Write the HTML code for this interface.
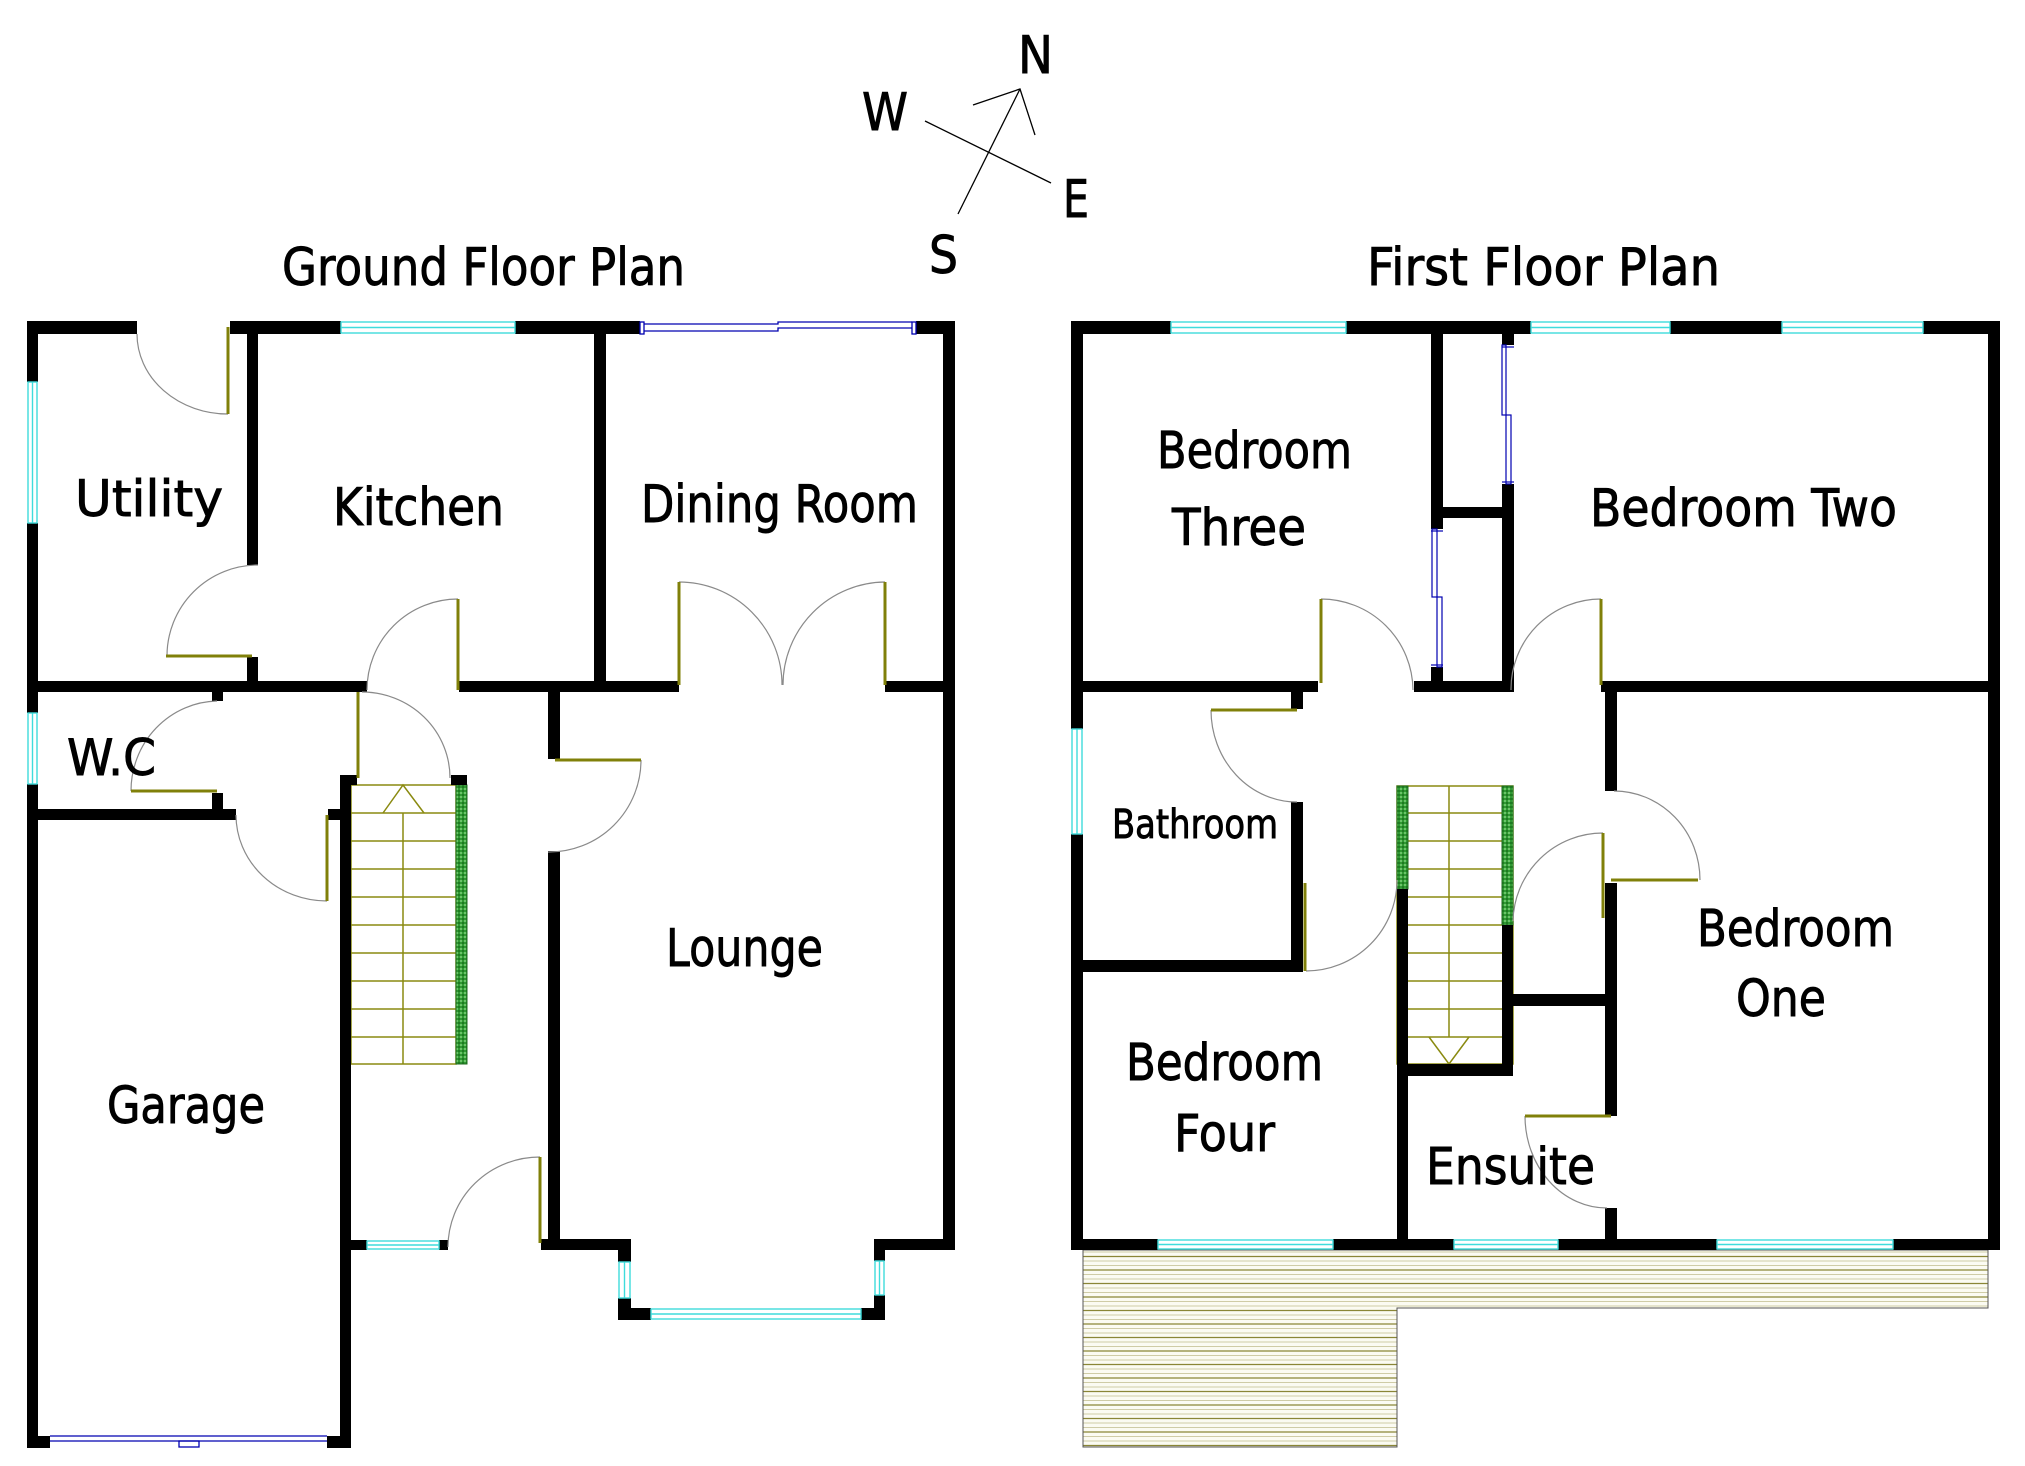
<!DOCTYPE html>
<html>
<head>
<meta charset="utf-8">
<style>
html,body{margin:0;padding:0;background:#fff;}
svg{display:block;}
text{font-family:"DejaVu Sans","Liberation Sans",sans-serif;fill:#000;stroke:#000;stroke-width:0.9;}
</style>
</head>
<body>
<svg width="2025" height="1466" viewBox="0 0 2025 1466" xmlns="http://www.w3.org/2000/svg">
<defs>
<pattern id="deck" patternUnits="userSpaceOnUse" width="20" height="13.5">
<rect width="20" height="13.5" fill="#fbfbf2"/>
<line x1="0" y1="1" x2="20" y2="1" stroke="#8a8636" stroke-width="1.3"/>
<line x1="0" y1="5.5" x2="20" y2="5.5" stroke="#cfcca6" stroke-width="1"/>
<line x1="0" y1="10" x2="20" y2="10" stroke="#cfcca6" stroke-width="1"/>
</pattern>
<pattern id="rail" patternUnits="userSpaceOnUse" width="4" height="4">
<rect width="4" height="4" fill="#2f9a32"/>
<rect x="0" y="0" width="2" height="2" fill="#6cc46a"/>
<rect x="2" y="2" width="2" height="2" fill="#1f7a22"/>
</pattern>
</defs>

<!-- ===== Titles ===== -->
<text x="282" y="285" font-size="52" textLength="403" lengthAdjust="spacingAndGlyphs">Ground Floor Plan</text>
<text x="1367" y="285" font-size="52" textLength="353" lengthAdjust="spacingAndGlyphs">First Floor Plan</text>

<!-- ===== Compass ===== -->
<g stroke="#000" stroke-width="1.3" fill="none">
<line x1="925" y1="121" x2="1051" y2="183"/>
<line x1="958" y1="214" x2="1020" y2="89"/>
<polyline points="973,105 1020,89 1035,135"/>
</g>
<text x="1018" y="73" font-size="52" textLength="35" lengthAdjust="spacingAndGlyphs">N</text>
<text x="862" y="130" font-size="52" textLength="46" lengthAdjust="spacingAndGlyphs">W</text>
<text x="1063" y="217" font-size="52" textLength="26" lengthAdjust="spacingAndGlyphs">E</text>
<text x="929" y="273" font-size="52" textLength="29" lengthAdjust="spacingAndGlyphs">S</text>

<!-- ===== GROUND FLOOR ===== -->
<g stroke="#8a8a10" stroke-width="1.5" fill="none">
<rect x="351" y="785" width="105" height="279"/>
<line x1="351" y1="813" x2="456" y2="813"/>
<line x1="351" y1="841" x2="456" y2="841"/>
<line x1="351" y1="869" x2="456" y2="869"/>
<line x1="351" y1="897" x2="456" y2="897"/>
<line x1="351" y1="925" x2="456" y2="925"/>
<line x1="351" y1="953" x2="456" y2="953"/>
<line x1="351" y1="981" x2="456" y2="981"/>
<line x1="351" y1="1009" x2="456" y2="1009"/>
<line x1="351" y1="1037" x2="456" y2="1037"/>
<line x1="403" y1="813" x2="403" y2="1064"/>
<polyline points="383,813 403,785 424,813"/>
</g>
<rect x="456" y="785" width="11" height="279" fill="url(#rail)" stroke="#1d6b1d" stroke-width="1"/>

<g fill="#000">
<rect x="27" y="321" width="110" height="13"/>
<rect x="230" y="321" width="111" height="13"/>
<rect x="515" y="321" width="125" height="13"/>
<rect x="916" y="321" width="39" height="13"/>
<rect x="27" y="321" width="11" height="61"/>
<rect x="27" y="523" width="11" height="190"/>
<rect x="27" y="784" width="11" height="664"/>
<rect x="247" y="334" width="11" height="231"/>
<rect x="247" y="657" width="11" height="24"/>
<rect x="594" y="334" width="12" height="347"/>
<rect x="943" y="321" width="12" height="929"/>
<rect x="27" y="681" width="340" height="11"/>
<rect x="459" y="681" width="220" height="11"/>
<rect x="885" y="681" width="70" height="11"/>
<rect x="212" y="692" width="11" height="9"/>
<rect x="212" y="793" width="11" height="16"/>
<rect x="27" y="809" width="209" height="11"/>
<rect x="328" y="809" width="12" height="11"/>
<rect x="340" y="775" width="11" height="673"/>
<rect x="340" y="775" width="17" height="10"/>
<rect x="451" y="775" width="16" height="10"/>
<rect x="548" y="692" width="12" height="67"/>
<rect x="548" y="851" width="12" height="399"/>
<rect x="541" y="1239" width="90" height="11"/>
<rect x="618" y="1239" width="13" height="23"/>
<rect x="618" y="1298" width="13" height="22"/>
<rect x="618" y="1308" width="33" height="12"/>
<rect x="861" y="1308" width="24" height="12"/>
<rect x="874" y="1295" width="11" height="25"/>
<rect x="874" y="1239" width="11" height="22"/>
<rect x="874" y="1239" width="81" height="11"/>
<rect x="351" y="1240" width="16" height="10"/>
<rect x="439" y="1240" width="9" height="10"/>
<rect x="27" y="1436" width="23" height="12"/>
<rect x="327" y="1436" width="24" height="12"/>
</g>

<g stroke="#3edcdc" stroke-width="1.4" fill="#fff">
<rect x="341" y="322" width="174" height="11"/>
<line x1="341" y1="327.5" x2="515" y2="327.5"/>
<rect x="28" y="382" width="9" height="141"/>
<line x1="32.5" y1="382" x2="32.5" y2="523"/>
<rect x="28" y="713" width="9" height="71"/>
<line x1="32.5" y1="713" x2="32.5" y2="784"/>
<rect x="619" y="1262" width="11" height="36"/>
<line x1="624.5" y1="1262" x2="624.5" y2="1298"/>
<rect x="651" y="1309" width="210" height="10"/>
<line x1="651" y1="1314" x2="861" y2="1314"/>
<rect x="875" y="1261" width="9" height="34"/>
<line x1="879.5" y1="1261" x2="879.5" y2="1295"/>
<rect x="367" y="1241" width="72" height="8"/>
<line x1="367" y1="1245" x2="439" y2="1245"/>
</g>

<g stroke="#0000b0" stroke-width="1.3" fill="none">
<rect x="640" y="322" width="4" height="12"/>
<rect x="912" y="322" width="4" height="12"/>
<polyline points="644,324 778,324 778,322 912,322"/>
<polyline points="644,331 778,331 778,328 912,328"/>
</g>
<g stroke="#0000b0" stroke-width="1.3" fill="none">
<line x1="50" y1="1436" x2="327" y2="1436"/>
<line x1="50" y1="1441" x2="327" y2="1441"/>
<rect x="179" y="1441" width="20" height="6"/>
</g>

<g stroke="#8a8a8a" stroke-width="1.2" fill="none">
<path d="M137,334 A91,80 0 0,0 228,414"/>
<path d="M258,565 A91,91 0 0,0 167,656"/>
<path d="M458,599 A91,91 0 0,0 367,690"/>
<path d="M362,692 A88,86 0 0,1 450,778"/>
<path d="M679,582 A103,103 0 0,1 782,685"/>
<path d="M885,582 A103,103 0 0,0 783,685"/>
<path d="M217,701 A88,90 0 0,0 131,791"/>
<path d="M236,815 A91,86 0 0,0 327,901"/>
<path d="M641,760 A92,92 0 0,1 548,852"/>
<path d="M540,1157 A92,90 0 0,0 448,1247"/>
</g>
<g stroke="#80800a" stroke-width="3" fill="none">
<line x1="228" y1="327" x2="228" y2="414"/>
<line x1="166" y1="656" x2="252" y2="656"/>
<line x1="458" y1="599" x2="458" y2="690"/>
<line x1="358" y1="692" x2="358" y2="778"/>
<line x1="679" y1="582" x2="679" y2="685"/>
<line x1="885" y1="582" x2="885" y2="685"/>
<line x1="131" y1="791" x2="217" y2="791"/>
<line x1="327" y1="815" x2="327" y2="901"/>
<line x1="555" y1="760" x2="641" y2="760"/>
<line x1="540" y1="1157" x2="540" y2="1243"/>
</g>

<text x="75" y="516" font-size="50" textLength="148" lengthAdjust="spacingAndGlyphs">Utility</text>
<text x="333" y="525" font-size="52" textLength="171" lengthAdjust="spacingAndGlyphs">Kitchen</text>
<text x="641" y="522" font-size="52" textLength="277" lengthAdjust="spacingAndGlyphs">Dining Room</text>
<text x="67" y="775" font-size="50" textLength="89" lengthAdjust="spacingAndGlyphs">W.C</text>
<text x="107" y="1123" font-size="51" textLength="158" lengthAdjust="spacingAndGlyphs">Garage</text>
<text x="666" y="966" font-size="52" textLength="157" lengthAdjust="spacingAndGlyphs">Lounge</text>

<!-- ===== FIRST FLOOR ===== -->
<polygon points="1083,1250 1988,1250 1988,1308 1397,1308 1397,1447 1083,1447" fill="url(#deck)" stroke="#555" stroke-width="1"/>

<g stroke="#8a8a10" stroke-width="1.5" fill="none">
<rect x="1397" y="786" width="116" height="278"/>
<line x1="1408" y1="813" x2="1502" y2="813"/>
<line x1="1408" y1="841" x2="1502" y2="841"/>
<line x1="1408" y1="869" x2="1502" y2="869"/>
<line x1="1408" y1="897" x2="1502" y2="897"/>
<line x1="1408" y1="925" x2="1502" y2="925"/>
<line x1="1408" y1="953" x2="1502" y2="953"/>
<line x1="1408" y1="981" x2="1502" y2="981"/>
<line x1="1408" y1="1009" x2="1502" y2="1009"/>
<line x1="1408" y1="1037" x2="1502" y2="1037"/>
<line x1="1449" y1="786" x2="1449" y2="1037"/>
<polyline points="1429,1037 1449,1064 1469,1037"/>
</g>
<rect x="1397" y="786" width="11" height="103" fill="url(#rail)" stroke="#1d6b1d" stroke-width="1"/>
<rect x="1502" y="786" width="11" height="139" fill="url(#rail)" stroke="#1d6b1d" stroke-width="1"/>

<g fill="#000">
<rect x="1071" y="321" width="100" height="13"/>
<rect x="1346" y="321" width="185" height="13"/>
<rect x="1670" y="321" width="112" height="13"/>
<rect x="1923" y="321" width="77" height="13"/>
<rect x="1071" y="321" width="12" height="408"/>
<rect x="1071" y="834" width="12" height="416"/>
<rect x="1988" y="321" width="12" height="929"/>
<rect x="1431" y="334" width="12" height="195"/>
<rect x="1431" y="667" width="12" height="14"/>
<rect x="1443" y="507" width="60" height="11"/>
<rect x="1502" y="334" width="12" height="11"/>
<rect x="1502" y="484" width="12" height="208"/>
<rect x="1071" y="681" width="247" height="11"/>
<rect x="1414" y="681" width="97" height="11"/>
<rect x="1601" y="681" width="399" height="11"/>
<rect x="1291" y="692" width="12" height="17"/>
<rect x="1291" y="802" width="12" height="170"/>
<rect x="1071" y="960" width="232" height="12"/>
<rect x="1397" y="889" width="11" height="361"/>
<rect x="1502" y="925" width="11" height="151"/>
<rect x="1397" y="1064" width="116" height="12"/>
<rect x="1513" y="994" width="95" height="12"/>
<rect x="1605" y="681" width="12" height="110"/>
<rect x="1605" y="883" width="12" height="233"/>
<rect x="1605" y="1208" width="12" height="42"/>
<rect x="1071" y="1239" width="87" height="11"/>
<rect x="1333" y="1239" width="121" height="11"/>
<rect x="1558" y="1239" width="159" height="11"/>
<rect x="1893" y="1239" width="107" height="11"/>
</g>

<g stroke="#3edcdc" stroke-width="1.4" fill="#fff">
<rect x="1171" y="322" width="175" height="11"/>
<line x1="1171" y1="327.5" x2="1346" y2="327.5"/>
<rect x="1531" y="322" width="139" height="11"/>
<line x1="1531" y1="327.5" x2="1670" y2="327.5"/>
<rect x="1782" y="322" width="141" height="11"/>
<line x1="1782" y1="327.5" x2="1923" y2="327.5"/>
<rect x="1072" y="729" width="10" height="105"/>
<line x1="1077" y1="729" x2="1077" y2="834"/>
<rect x="1158" y="1240" width="175" height="9"/>
<line x1="1158" y1="1244.5" x2="1333" y2="1244.5"/>
<rect x="1454" y="1240" width="104" height="9"/>
<line x1="1454" y1="1244.5" x2="1558" y2="1244.5"/>
<rect x="1717" y="1240" width="176" height="9"/>
<line x1="1717" y1="1244.5" x2="1893" y2="1244.5"/>
</g>

<g stroke="#0000b0" stroke-width="1.2" fill="none">
<rect x="1432" y="529" width="5" height="68"/>
<rect x="1437" y="597" width="5" height="70"/>
<line x1="1431" y1="665" x2="1443" y2="665"/>
<line x1="1431" y1="531" x2="1443" y2="531"/>
<rect x="1502" y="345" width="4" height="70"/>
<rect x="1506" y="415" width="5" height="69"/>
<line x1="1502" y1="347" x2="1514" y2="347"/>
<line x1="1502" y1="482" x2="1514" y2="482"/>
</g>

<g stroke="#8a8a8a" stroke-width="1.2" fill="none">
<path d="M1321,599 A92,92 0 0,1 1413,690"/>
<path d="M1601,599 A90,90 0 0,0 1511,690"/>
<path d="M1211,710 A86,92 0 0,0 1297,802"/>
<path d="M1306,971 A91,91 0 0,0 1397,880"/>
<path d="M1603,833 A90,90 0 0,0 1513,921"/>
<path d="M1614,791 A86,89 0 0,1 1700,880"/>
<path d="M1525,1116 A82,92 0 0,0 1607,1208"/>
</g>
<g stroke="#80800a" stroke-width="3" fill="none">
<line x1="1321" y1="599" x2="1321" y2="683"/>
<line x1="1601" y1="599" x2="1601" y2="685"/>
<line x1="1211" y1="710" x2="1297" y2="710"/>
<line x1="1305" y1="883" x2="1305" y2="971"/>
<line x1="1603" y1="833" x2="1603" y2="918"/>
<line x1="1611" y1="880" x2="1698" y2="880"/>
<line x1="1525" y1="1116" x2="1611" y2="1116"/>
</g>

<text x="1157" y="468" font-size="51" textLength="195" lengthAdjust="spacingAndGlyphs">Bedroom</text>
<text x="1172" y="545" font-size="51" textLength="134" lengthAdjust="spacingAndGlyphs">Three</text>
<text x="1590" y="526" font-size="52" textLength="307" lengthAdjust="spacingAndGlyphs">Bedroom Two</text>
<text x="1112" y="838" font-size="40" textLength="166" lengthAdjust="spacingAndGlyphs">Bathroom</text>
<text x="1697" y="946" font-size="51" textLength="197" lengthAdjust="spacingAndGlyphs">Bedroom</text>
<text x="1736" y="1016" font-size="51" textLength="90" lengthAdjust="spacingAndGlyphs">One</text>
<text x="1126" y="1080" font-size="51" textLength="197" lengthAdjust="spacingAndGlyphs">Bedroom</text>
<text x="1174" y="1151" font-size="51" textLength="101" lengthAdjust="spacingAndGlyphs">Four</text>
<text x="1426" y="1184" font-size="51" textLength="169" lengthAdjust="spacingAndGlyphs">Ensuite</text>
</svg>
</body>
</html>
